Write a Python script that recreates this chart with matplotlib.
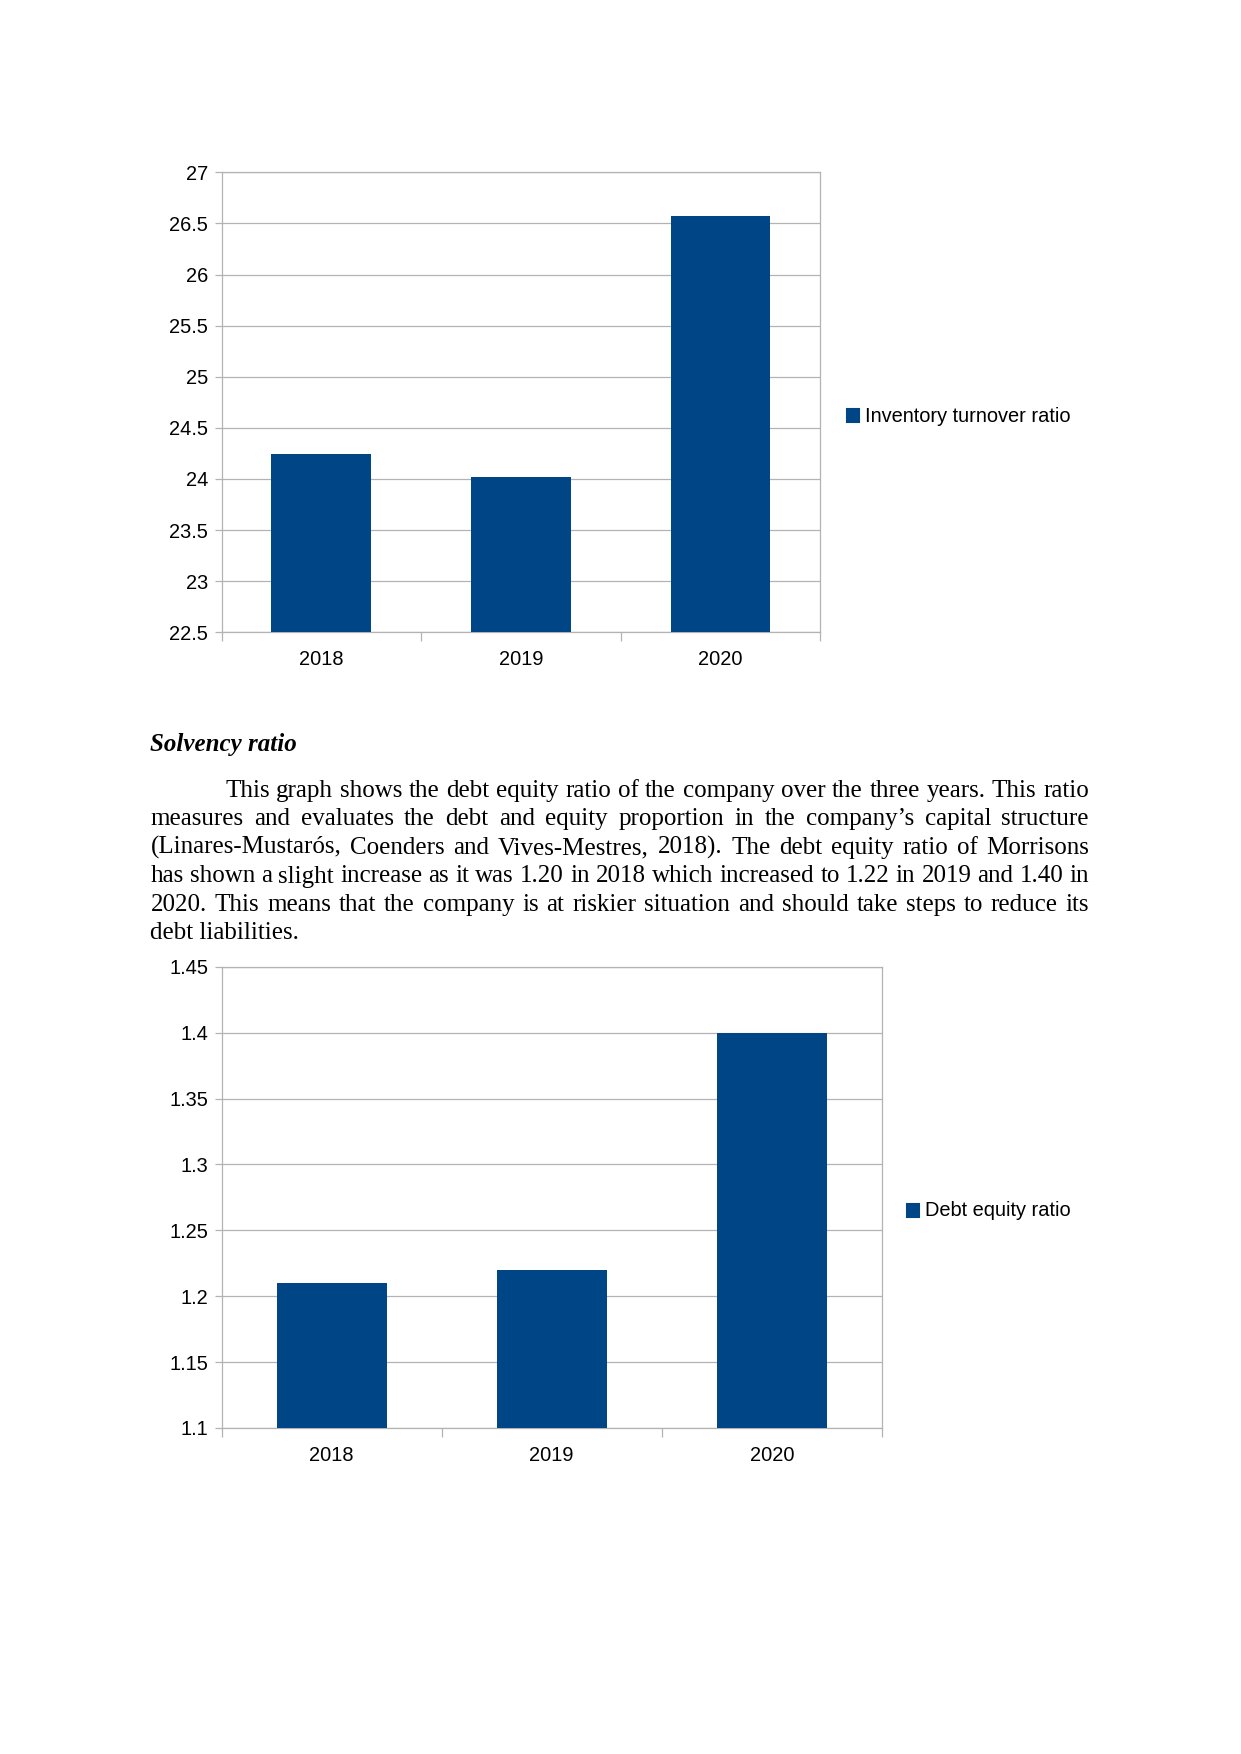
import matplotlib
matplotlib.use("Agg")
import matplotlib.pyplot as plt
from matplotlib.ticker import MultipleLocator, FuncFormatter, FixedLocator
from matplotlib.patches import Rectangle

# Datos
YEARS = ["2018", "2019", "2020"]
INVENTORY_TURNOVER = [24.24, 24.02, 26.57]
DEBT_EQUITY = [1.21, 1.22, 1.40]
LABEL_INV = "Inventory turnover ratio"
LABEL_DEBT = "Debt equity ratio"

HEADING = "Solvency ratio"
PARAGRAPH = [
    "This graph shows the debt equity ratio of the company over the three years. This ratio",
    "measures and evaluates the debt and equity proportion in the company\u2019s capital structure",
    "(Linares-Mustar\u00f3s, Coenders and Vives-Mestres, 2018). The debt equity ratio of Morrisons",
    "has shown a slight increase as it was 1.20 in 2018 which increased to 1.22 in 2019 and 1.40 in",
    "2020. This means that the company is at riskier situation and should take steps to reduce its",
    "debt liabilities.",
]

W, H = 1241, 1754
DPI = 150
BLUE = "#004586"
GRIS = "#b3b3b3"
SANS = "Liberation Sans"
SERIF = "Liberation Serif"

fig = plt.figure(figsize=(W / DPI, H / DPI), dpi=DPI)


def fx(px):
    return px / W


def fy(py):
    return 1 - py / H


def grafico(left, top, right, bottom, valores, ymin, ymax, paso, etiqueta, leg_x, leg_y):
    ax = fig.add_axes([fx(left), fy(bottom), fx(right - left), (bottom - top) / H])
    ax.bar(range(len(YEARS)), valores, width=0.5, color=BLUE, zorder=3)
    ax.set_xlim(-0.5, len(YEARS) - 0.5)
    ax.set_ylim(ymin, ymax)
    ax.yaxis.set_major_locator(MultipleLocator(paso))
    ax.yaxis.set_major_formatter(FuncFormatter(lambda v, p: f"{round(v, 4):g}"))
    ax.set_xticks(range(len(YEARS)))
    ax.set_xticklabels(YEARS)
    ax.xaxis.set_minor_locator(FixedLocator([i - 0.5 for i in range(len(YEARS) + 1)]))
    ax.tick_params(axis="x", which="major", length=0, pad=8.5, labelsize=9.6)
    ax.tick_params(axis="x", which="minor", length=4.5, width=0.6, color=GRIS, direction="out")
    ax.tick_params(axis="y", length=3.5, width=0.6, color=GRIS, pad=3, labelsize=9.6)
    for lab in ax.get_xticklabels() + ax.get_yticklabels():
        lab.set_fontfamily(SANS)
    ax.grid(axis="y", color=GRIS, linewidth=0.6, zorder=0)
    for s in ax.spines.values():
        s.set_color(GRIS)
        s.set_linewidth(0.6)
    # leyenda
    fig.patches.append(Rectangle((fx(leg_x), fy(leg_y + 6.5)), fx(12), 13 / H,
                                 transform=fig.transFigure, color=BLUE, figure=fig))
    fig.text(fx(leg_x + 18), fy(leg_y + 6.5), etiqueta, fontsize=9.6, family=SANS,
             va="baseline", ha="left")
    return ax


grafico(221.6, 172.3, 820.3, 632.3, INVENTORY_TURNOVER, 22.5, 27, 0.5, LABEL_INV, 847, 415.5)
grafico(221.6, 966.9, 881.8, 1427.9, DEBT_EQUITY, 1.1, 1.45, 0.05, LABEL_DEBT, 907, 1210)

# Texto
fig.text(fx(150.5), fy(751), HEADING, fontsize=12, family=SERIF, weight="bold",
         style="italic", va="baseline")

renderer = fig.canvas.get_renderer()
X0, X1 = 150.5, 1089
baselines = [797, 825.5, 854, 882.5, 911, 939]
for i, (linea, yb) in enumerate(zip(PARAGRAPH, baselines)):
    inicio = 225 if i == 0 else X0
    if i == len(PARAGRAPH) - 1:
        fig.text(fx(inicio), fy(yb), linea, fontsize=12, family=SERIF, va="baseline")
        continue
    palabras = linea.split(" ")
    textos = [fig.text(0, fy(yb), p, fontsize=12, family=SERIF, va="baseline") for p in palabras]
    anchos = [t.get_window_extent(renderer).width for t in textos]
    hueco = (X1 - inicio - sum(anchos)) / (len(palabras) - 1)
    x = inicio
    for t, a in zip(textos, anchos):
        t.set_x(fx(x))
        x += a + hueco

fig.savefig("out.png", dpi=DPI)
